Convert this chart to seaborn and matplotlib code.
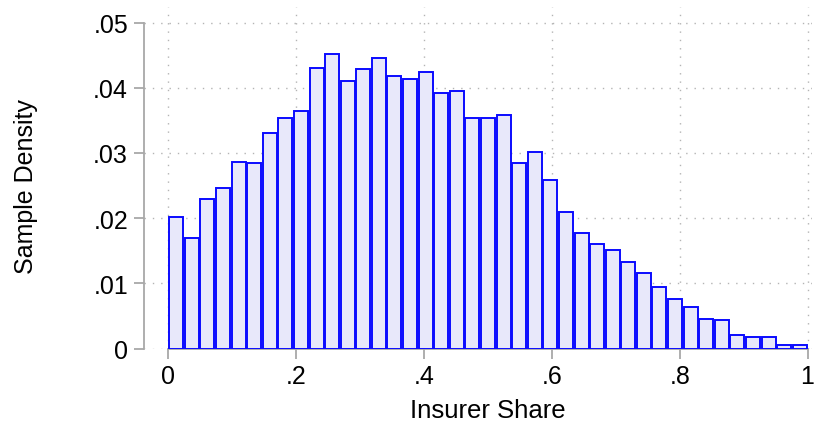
import numpy as np
import pandas as pd
import seaborn as sns
import matplotlib.pyplot as plt

# 41 equal bins on [0, 1], density
n_bins = 41
density = [0.0202, 0.0170, 0.0230, 0.0247, 0.0286, 0.0285, 0.0331, 0.0354, 0.0365, 0.0430,
           0.0452, 0.0411, 0.0429, 0.0446, 0.0418, 0.0414, 0.0424, 0.0392, 0.0395, 0.0354,
           0.0354, 0.0358, 0.0285, 0.0302, 0.0258, 0.0210, 0.0177, 0.0161, 0.0151, 0.0133,
           0.0116, 0.0095, 0.0076, 0.0064, 0.0046, 0.0043, 0.0021, 0.0018, 0.0018, 0.0006,
           0.0005]
x_ticks = [0, 0.2, 0.4, 0.6, 0.8, 1]
x_labels = ["0", ".2", ".4", ".6", ".8", "1"]
y_ticks = [0, 0.01, 0.02, 0.03, 0.04, 0.05]
y_labels = ["0", ".01", ".02", ".03", ".04", ".05"]

centers = (np.arange(n_bins) + 0.5) / n_bins
df = pd.DataFrame({"share": centers, "density": density})

sns.set_style("white")
plt.rcParams["font.family"] = ["Liberation Sans", "DejaVu Sans"]

fig = plt.figure(figsize=(8.18, 4.27), dpi=100)
ax = fig.add_axes([144 / 818, 1 - 349.5 / 427, (812 - 144) / 818, (349.5 - 8) / 427])

sns.histplot(data=df, x="share", weights="density", bins=n_bins, binrange=(0, 1),
             stat="count", shrink=0.9, color="#e8e8fa", edgecolor="#0a0aff",
             linewidth=1.4, alpha=1, ax=ax, zorder=3)

ax.set_xlim(-0.0383, 1.007)
ax.set_ylim(0, 0.0524)
ax.set_xticks(x_ticks)
ax.set_xticklabels(x_labels)
ax.set_yticks(y_ticks)
ax.set_yticklabels(y_labels)

ax.grid(True, color="#b4b4b4", linestyle=(0, (1, 5)), linewidth=1.0, zorder=0)
ax.set_axisbelow(True)

for side in ["top", "right"]:
    ax.spines[side].set_visible(False)
for side in ["left", "bottom"]:
    ax.spines[side].set_color("#a8a8a8")
    ax.spines[side].set_linewidth(1.3)
ax.spines["bottom"].set_bounds(0, 1)
ax.spines["left"].set_bounds(0, 0.05)

ax.tick_params(axis="both", direction="out", length=7.5, width=1.3, color="#a8a8a8",
               labelsize=18, labelcolor="black", pad=4, bottom=True, left=True)

ax.set_xlabel("Insurer Share", fontsize=18.5, color="black", labelpad=7)
ax.set_ylabel("Sample Density", fontsize=18, color="black", labelpad=40)
ax.xaxis.label.set_x((0.5 + 0.0383) / (1.007 + 0.0383))
ax.yaxis.label.set_y(0.025 / 0.0524)

fig.savefig("out.png", dpi=100)
